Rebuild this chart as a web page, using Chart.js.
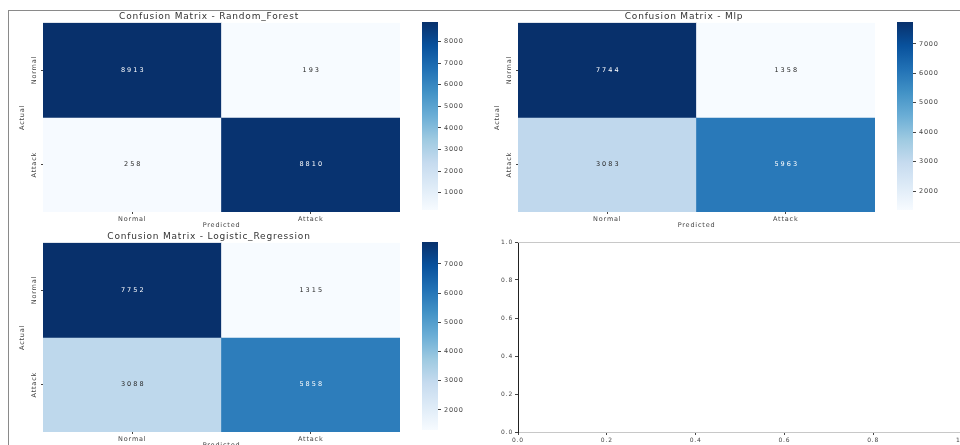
<!DOCTYPE html>
<html>
<head>
<meta charset="utf-8">
<script src="https://cdn.jsdelivr.net/npm/chart.js@4.4.0/dist/chart.umd.min.js"></script>
<style>
html, body { margin:0; padding:0; background:#fff; width:960px; height:445px; overflow:hidden; }
#frame { position:absolute; left:8px; top:10px; width:960px; height:445px; border-top:1px solid #8a8a8a; border-left:1px solid #8a8a8a; }
canvas { position:absolute; }
</style>
</head>
<body>
<div id="frame"></div>
<canvas id="hmRF"  width="400" height="218" style="left:9px;top:11px"></canvas>
<canvas id="cbRF"  width="62"  height="218" style="left:410px;top:11px"></canvas>
<canvas id="hmMLP" width="400" height="218" style="left:484px;top:11px"></canvas>
<canvas id="cbMLP" width="62"  height="218" style="left:885px;top:11px"></canvas>
<canvas id="hmLR"  width="400" height="218" style="left:9px;top:231px"></canvas>
<canvas id="cbLR"  width="62"  height="218" style="left:410px;top:231px"></canvas>
<canvas id="empty" width="500" height="218" style="left:484px;top:231px"></canvas>
<script>
"use strict";
const classes   = ['Normal', 'Attack'];
const rfValues  = [[8913, 193], [258, 8810]];
const mlpValues = [[7744, 1358], [3083, 5963]];
const lrValues  = [[7752, 1315], [3088, 5858]];
const rfTicks   = [1000, 2000, 3000, 4000, 5000, 6000, 7000, 8000];
const mlpTicks  = [2000, 3000, 4000, 5000, 6000, 7000];
const lrTicks   = [2000, 3000, 4000, 5000, 6000, 7000];
const emptyTicks = [0, 0.2, 0.4, 0.6, 0.8, 1.0];

// matplotlib "Blues"
const BLUES = [[247,251,255],[222,235,247],[198,219,239],[158,202,225],[107,174,214],[66,146,198],[33,113,181],[8,81,156],[8,48,107]];
const FONT = 'DejaVu Sans';
const TXT = '#444';

// the picture's text is a bit stretched sideways
Chart.register({
  id: 'spacing',
  beforeInit(chart) { chart.ctx.letterSpacing = '0.8px'; },
  beforeUpdate(chart) { chart.ctx.letterSpacing = '0.8px'; },
  beforeDraw(chart) { chart.ctx.letterSpacing = '0.8px'; }
});

function rgb(c) { return `rgb(${c.map(Math.round).join(',')})`; }
function blues(t) {
  t = Math.max(0, Math.min(1, t)) * (BLUES.length - 1);
  const i = Math.min(Math.floor(t), BLUES.length - 2), f = t - i;
  return rgb(BLUES[i].map((v, k) => v + (BLUES[i + 1][k] - v) * f));
}
function range(values) {
  const flat = values.flat();
  return [Math.min(...flat), Math.max(...flat)];
}

function heatmap(id, title, values) {
  const [vmin, vmax] = range(values);
  const norm = v => (v - vmin) / (vmax - vmin);
  const annot = {
    id: 'annot',
    afterDatasetsDraw(chart) {
      const ctx = chart.ctx;
      ctx.save();
      ctx.font = `6.5px "${FONT}"`;
      ctx.letterSpacing = '2px';
      ctx.textAlign = 'center';
      ctx.textBaseline = 'middle';
      chart.data.datasets.forEach((ds, r) => {
        chart.getDatasetMeta(r).data.forEach((bar, c) => {
          const v = values[r][c];
          ctx.fillStyle = norm(v) > 0.5 ? '#ffffff' : '#262626';
          ctx.fillText(String(v), bar.x + 1, (bar.y + bar.base) / 2);
        });
      });
      ctx.restore();
    }
  };
  new Chart(document.getElementById(id), {
    type: 'bar',
    data: {
      labels: classes,
      datasets: classes.map((rowName, r) => ({
        label: rowName,
        data: classes.map(() => [r, r + 1]),
        backgroundColor: values[r].map(v => blues(norm(v))),
        borderWidth: 0, grouped: false, barPercentage: 1, categoryPercentage: 1
      }))
    },
    options: {
      responsive: false, animation: false,
      layout: { padding: { left: 9, right: 9, top: 0, bottom: 0 } },
      plugins: {
        legend: { display: false }, tooltip: { enabled: false },
        title: { display: true, text: title, color: '#333', font: { family: FONT, size: 9, weight: 'normal' }, padding: { top: 0, bottom: 1 } }
      },
      scales: {
        x: {
          grid: { drawOnChartArea: false, offset: false, tickLength: 2, color: TXT }, border: { display: false },
          ticks: { color: TXT, font: { family: FONT, size: 6.5 }, padding: 1, maxRotation: 0 },
          title: { display: true, text: 'Predicted', color: TXT, font: { family: FONT, size: 6.5 }, padding: 0 },
          afterFit(s) { s.height = 17; }
        },
        y: {
          min: 0, max: 2, reverse: true,
          afterBuildTicks(s) { s.ticks = [{ value: 0.5 }, { value: 1.5 }]; },
          grid: { drawOnChartArea: false, tickLength: 2, color: TXT }, border: { display: false },
          ticks: { callback: (v, i) => classes[i], minRotation: 90, maxRotation: 90, crossAlign: 'center', padding: -7, color: TXT, font: { family: FONT, size: 6.5 } },
          title: { display: true, text: 'Actual', color: TXT, font: { family: FONT, size: 6.5 }, padding: 0 },
          afterFit(s) { s.width = 25; }
        }
      }
    },
    plugins: [annot]
  });
}

function colorbar(id, values, tickValues) {
  const [vmin, vmax] = range(values);
  new Chart(document.getElementById(id), {
    type: 'bar',
    data: {
      labels: [''],
      datasets: [{
        data: [[vmin, vmax]],
        backgroundColor: c => {
          const ch = c.chart;
          if (!ch.chartArea) return blues(0.5);
          const y = ch.scales.y;
          const g = ch.ctx.createLinearGradient(0, y.getPixelForValue(vmin), 0, y.getPixelForValue(vmax));
          BLUES.forEach((col, i) => g.addColorStop(i / (BLUES.length - 1), rgb(col)));
          return g;
        },
        borderWidth: 0, barPercentage: 1, categoryPercentage: 1
      }]
    },
    options: {
      responsive: false, animation: false,
      layout: { padding: { left: 12, right: 0, top: 11, bottom: 19 } },
      plugins: { legend: { display: false }, tooltip: { enabled: false } },
      scales: {
        x: { display: false },
        y: {
          position: 'right', min: vmin, max: vmax,
          afterBuildTicks(s) { s.ticks = tickValues.map(v => ({ value: v })); },
          grid: { drawOnChartArea: false, tickLength: 3, color: TXT }, border: { display: false },
          ticks: { color: TXT, font: { family: FONT, size: 6.5 }, padding: 3, callback: v => String(v) },
          afterFit(s) { s.width = 34; }
        }
      }
    }
  });
}

heatmap('hmRF', 'Confusion Matrix - Random_Forest', rfValues);
colorbar('cbRF', rfValues, rfTicks);
heatmap('hmMLP', 'Confusion Matrix - Mlp', mlpValues);
colorbar('cbMLP', mlpValues, mlpTicks);
heatmap('hmLR', 'Confusion Matrix - Logistic_Regression', lrValues);
colorbar('cbLR', lrValues, lrTicks);

// empty fourth axes
const topSpine = {
  id: 'topSpine',
  afterDraw(chart) {
    const { ctx, chartArea: a } = chart;
    ctx.save();
    ctx.strokeStyle = '#c8c8c8'; ctx.lineWidth = 1;
    ctx.beginPath(); ctx.moveTo(a.left, a.top + 0.5); ctx.lineTo(a.right, a.top + 0.5); ctx.stroke();
    ctx.restore();
  }
};
const axisOpts = (isX) => ({
  type: 'linear', min: 0, max: 1,
  afterBuildTicks(s) { s.ticks = emptyTicks.map(v => ({ value: v })); },
  grid: { drawOnChartArea: false, tickLength: 3, color: TXT },
  border: { display: true, color: isX ? '#c8c8c8' : '#222', width: 1 },
  ticks: { color: TXT, font: { family: FONT, size: 6 }, padding: 2, maxRotation: 0, callback: v => v.toFixed(1) },
  afterFit(s) { if (isX) s.height = 17; else s.width = 34; }
});
new Chart(document.getElementById('empty'), {
  type: 'scatter',
  data: { datasets: [{ data: [] }] },
  options: {
    responsive: false, animation: false,
    layout: { padding: { left: 0, right: 22, top: 11, bottom: 0 } },
    plugins: { legend: { display: false }, tooltip: { enabled: false } },
    scales: { x: axisOpts(true), y: axisOpts(false) }
  },
  plugins: [topSpine]
});
</script>
</body>
</html>
